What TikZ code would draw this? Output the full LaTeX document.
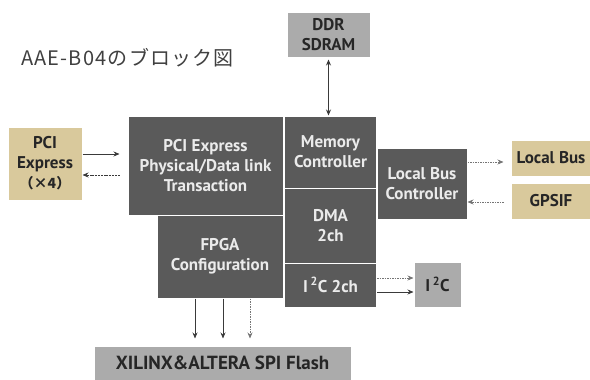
\documentclass[tikz,border=0pt]{standalone}
\usepackage{fontspec}
\setmainfont{PT Sans}
\newfontfamily\jpfont{Noto Sans CJK JP}
\newfontfamily\jptitle[LetterSpace=6]{Noto Sans CJK JP}
\usetikzlibrary{arrows.meta}
\definecolor{darkblk}{HTML}{5A5A5A}
\definecolor{lightblk}{HTML}{ABABAB}
\definecolor{tanblk}{HTML}{D9C99C}
\definecolor{arr}{HTML}{3A3A3A}
\begin{document}
\begin{tikzpicture}[x=1pt,y=-1pt,
  box/.style={draw=white, line width=1pt, align=center, inner sep=0pt, font=\bfseries\fontsize{17}{20}\selectfont},
  dk/.style={box, fill=darkblk, text=white!92!black},
  lt/.style={box, fill=lightblk, text=black!85},
  tn/.style={box, fill=tanblk, text=black!85},
  ar/.style={draw=arr, line width=0.7pt, -{Stealth[length=6pt,width=5pt]}},
  dar/.style={ar, dash pattern=on 1.5pt off 1pt, draw=arr!70},
]
\useasboundingbox (0,0) rectangle (590,380);
\node[font=\jptitle\fontsize{20}{22}\selectfont, text=black!75, anchor=west, inner sep=0pt] (title) at (21,58) {AAE-B04のブロック図};
\node[lt, minimum width=83pt, minimum height=45pt] (ddr) at (328.5,34.5) {DDR\\SDRAM};
\node[dk, minimum width=155pt, minimum height=99pt] (pci) at (205.5,165.5) {PCI Express\\Physical/Data link\\Transaction};
\node[dk, minimum width=92pt, minimum height=72pt] (mem) at (330.5,152) {Memory\\Controller};
\node[dk, minimum width=92pt, minimum height=75pt] (dma) at (330.5,225.5) {DMA\\2ch};
\node[dk, minimum width=92pt, minimum height=44pt] (i2ctwo) at (330.5,285) {I\,\textsuperscript{2}C 2ch};
\node[dk, minimum width=126pt, minimum height=83pt] (fpga) at (220,256.5) {FPGA\\Configuration};
\node[dk, minimum width=90pt, minimum height=71pt] (lbc) at (422,183.5) {Local Bus\\Controller};
\node[tn, minimum width=74pt, minimum height=73pt] (pcie) at (45,163.5) {PCI\\Express\\{\jpfont\fontsize{14}{16}\selectfont （×4）}};
\node[tn, minimum width=80pt, minimum height=36pt] (lbus) at (551,158) {Local Bus};
\node[tn, minimum width=80pt, minimum height=36pt] (gpsif) at (551,201) {GPSIF};
\node[lt, minimum width=47pt, minimum height=45pt] (i2c) at (437.5,284.5) {I\,\textsuperscript{2}C};
\node[lt, minimum width=257pt, minimum height=34pt, font=\bfseries\fontsize{19}{22}\selectfont] (flash) at (222.5,363) {XILINX\&ALTERA SPI Flash};
\draw[ar, {Stealth[length=6pt,width=5pt]}-{Stealth[length=6pt,width=5pt]}] (ddr.south) ++(0,2) -- (ddr.south |- mem.north);
\draw[ar, shorten >=8pt] (pcie.east |- 0,154) -- (pci.west |- 0,154);
\draw[ar, dash pattern=on 2pt off 0.8pt, shorten <=8pt] (pci.west |- 0,175) -- (pcie.east |- 0,175);
\draw[dar, shorten >=7pt] (lbc.east |- 0,162) -- (lbus.west |- 0,162);
\draw[dar, shorten <=7pt] (gpsif.west |- 0,202) -- (lbc.east |- 0,202);
\draw[dar] (i2ctwo.east |- 0,278) -- (i2c.west |- 0,278);
\draw[ar] (i2ctwo.east |- 0,292) -- (i2c.west |- 0,292);
\draw[ar, shorten >=7pt] (fpga.south -| 195,0) -- (flash.north -| 195,0);
\draw[ar, shorten >=7pt] (fpga.south -| 223,0) -- (flash.north -| 223,0);
\draw[dar, shorten >=7pt] (fpga.south -| 250,0) -- (flash.north -| 250,0);
\end{tikzpicture}
\end{document}
